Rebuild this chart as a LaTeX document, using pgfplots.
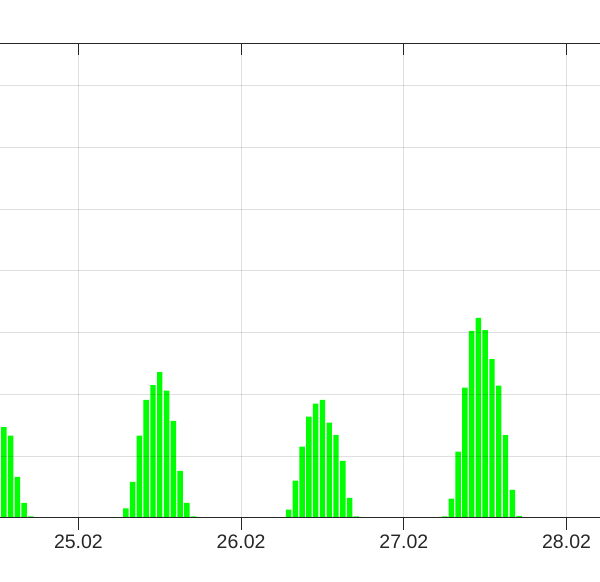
\documentclass[border=0pt]{standalone}
\usepackage{pgfplots}
\pgfplotsset{compat=1.18}
\usepackage{fontspec}
\setmainfont{Liberation Sans}
\definecolor{axcol}{RGB}{38,38,38}
\definecolor{bargreen}{RGB}{0,255,0}
\begin{document}
\begin{tikzpicture}
\useasboundingbox (0,0) rectangle (300pt,291pt);
\clip (0,0) rectangle (300pt,291pt);
\begin{axis}[
  at={(-17.75pt,32.15pt)}, anchor=south west,
  scale only axis, width=341.7pt, height=237.2pt,
  xmin=24.3, xmax=28.5, ymin=0, ymax=769,
  xtick={25,26,27,28}, xticklabels={25.02,26.02,27.02,28.02},
  xtick pos=bottom,
  ytick={0,100,...,700}, yticklabels={},
  xmajorgrids, ymajorgrids,
  grid style={draw=axcol, draw opacity=0.15, line width=0.5pt},
  axis line style={draw=axcol, line width=0.5pt},
  tick style={draw=axcol, line width=0.5pt},
  tick align=inside, major tick length=6pt,
  xticklabel style={font=\fontsize{9.75}{11}\selectfont, text=axcol, inner sep=0pt, yshift=-2.5pt},
  axis on top,
  ybar, bar width=0.0333,
]
\addplot[fill=bargreen, draw=none] coordinates {
(24.5417,147) (24.5833,133) (24.625,66) (24.6667,24) (24.7083,2)
(25.2917,15) (25.3333,58) (25.375,133) (25.4167,191) (25.4583,215) (25.5,236) (25.5417,206) (25.5833,157) (25.625,76) (25.6667,24) (25.7083,2)
(26.2917,13) (26.3333,60) (26.375,115) (26.4167,164) (26.4583,185) (26.5,191) (26.5417,154) (26.5833,134) (26.625,92) (26.6667,32) (26.7083,2)
(27.25,2) (27.2917,31) (27.3333,107) (27.375,211) (27.4167,303) (27.4583,324) (27.5,304) (27.5417,257) (27.5833,214) (27.625,134) (27.6667,45) (27.7083,3)
};
\end{axis}
\begin{axis}[
  at={(-17.75pt,32.15pt)}, anchor=south west,
  scale only axis, width=341.7pt, height=237.2pt,
  xmin=24.3, xmax=28.5, ymin=0, ymax=769,
  xtick={25,26,27,28}, xticklabels={},
  xtick pos=top, ytick=\empty,
  axis line style={draw=none},
  tick style={draw=axcol, line width=0.5pt},
  tick align=inside, major tick length=6pt,
]
\end{axis}
\end{tikzpicture}
\end{document}
